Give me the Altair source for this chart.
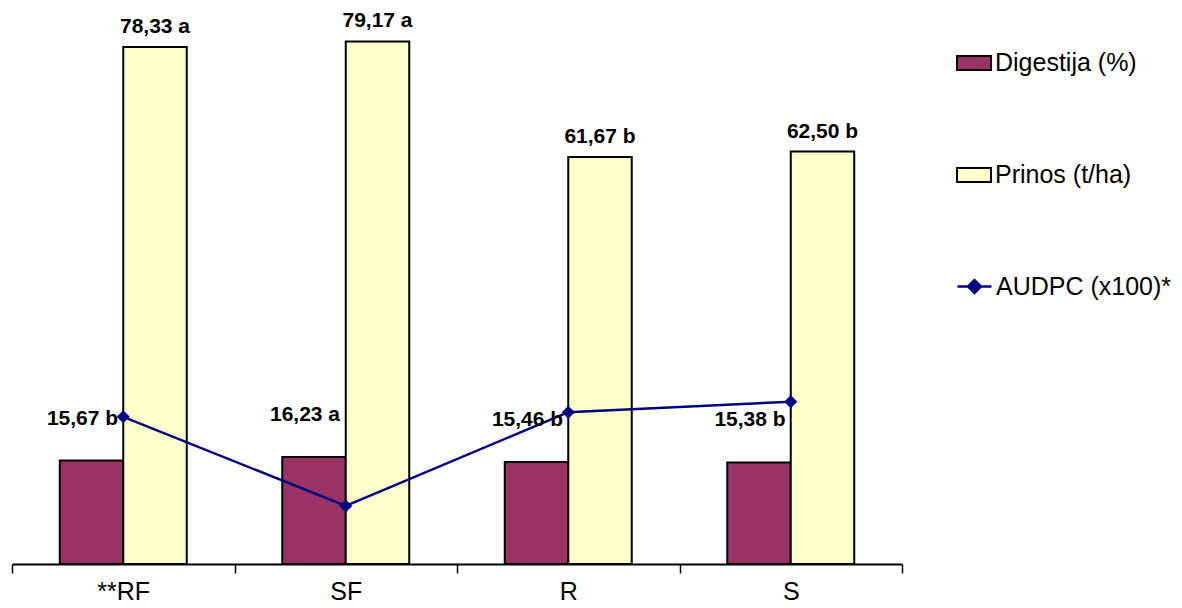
import altair as alt
import pandas as pd

# Treatments and measured values
tretmani = ["**RF", "SF", "R", "S"]
digestija = [15.67, 16.23, 15.46, 15.38]
digestija_slova = ["b", "a", "b", "b"]
prinos = [78.33, 79.17, 61.67, 62.50]
prinos_slova = ["a", "a", "b", "b"]
audpc = [22.3, 8.8, 23.0, 24.6]

serije = ["Digestija (%)", "Prinos (t/ha)"]
boje = ["#993366", "#FFFFCC"]
linija_naziv = "AUDPC (x100)*"
linija_boja = "#000080"
FONT = "Liberation Sans"


def oznaka(v, slovo):
    return f"{v:.2f}".replace(".", ",") + " " + slovo


redovi = []
for i, t in enumerate(tretmani):
    redovi.append(dict(tretman=t, serija=serije[0], vrijednost=digestija[i],
                       oznaka=oznaka(digestija[i], digestija_slova[i])))
    redovi.append(dict(tretman=t, serija=serije[1], vrijednost=prinos[i],
                       oznaka=oznaka(prinos[i], prinos_slova[i])))
stupci = pd.DataFrame(redovi)
linija = pd.DataFrame(dict(tretman=tretmani, audpc=audpc,
                           serija_l=[linija_naziv] * len(tretmani)))

x = alt.X(
    "tretman:N", sort=tretmani,
    scale=alt.Scale(paddingInner=0, paddingOuter=0),
    axis=alt.Axis(title=None, labelAngle=0, tickBand="extent",
                  labelFont=FONT, labelFontSize=25, labelColor="black",
                  labelPadding=6, domainColor="black", domainWidth=2,
                  tickColor="black", tickWidth=1.5, tickSize=9),
)
xoff = alt.XOffset("serija:N", sort=serije,
                   scale=alt.Scale(domain=serije, paddingInner=0, paddingOuter=0.752))
y_scale = alt.Scale(domain=[0, 80], nice=False, zero=True)

stupci_sloj = alt.Chart(stupci).mark_bar(stroke="black", strokeWidth=2).encode(
    x=x,
    xOffset=xoff,
    y=alt.Y("vrijednost:Q", scale=y_scale, axis=None),
    fill=alt.Fill(
        "serija:N", sort=serije,
        scale=alt.Scale(domain=serije, range=boje),
        legend=alt.Legend(
            title=None, orient="none", legendX=944, legendY=9,
            symbolType="M-1,-0.41L1,-0.41L1,0.41L-1,0.41Z", symbolSize=1156,
            symbolStrokeColor="black", symbolStrokeWidth=2, symbolOpacity=1,
            labelFont=FONT, labelFontSize=25, labelColor="black",
            labelOffset=3, labelLimit=0, rowPadding=81,
        ),
    ),
)

tekst_digestija = alt.Chart(stupci).transform_filter(
    alt.datum.serija == serije[0]
).mark_text(font=FONT, fontSize=21, fontWeight="bold", color="black",
            dx=-9, dy=-42, baseline="middle").encode(
    x=x, xOffset=xoff,
    y=alt.Y("vrijednost:Q", scale=y_scale, axis=None),
    text="oznaka:N",
)

tekst_prinos = alt.Chart(stupci).transform_filter(
    alt.datum.serija == serije[1]
).mark_text(font=FONT, fontSize=21, fontWeight="bold", color="black",
            dy=-20, baseline="middle").encode(
    x=x, xOffset=xoff,
    y=alt.Y("vrijednost:Q", scale=y_scale, axis=None),
    text="oznaka:N",
)

linija_sloj = alt.Chart(linija).mark_line(strokeWidth=2.5).encode(
    x=x,
    y=alt.Y("audpc:Q", scale=y_scale, axis=None),
    stroke=alt.Stroke(
        "serija_l:N",
        scale=alt.Scale(domain=[linija_naziv], range=[linija_boja]),
        legend=alt.Legend(
            title=None, orient="none", legendX=944, legendY=232,
            symbolType="M-1,0L1,0M0,-0.38L0.38,0L0,0.38L-0.38,0Z", symbolSize=1156,
            symbolStrokeWidth=2.5, symbolFillColor=linija_boja,
            labelFont=FONT, labelFontSize=25, labelColor="black",
            labelOffset=3, labelLimit=0,
        ),
    ),
)

tocke = alt.Chart(linija).mark_point(shape="diamond", filled=True, size=170,
                                     color=linija_boja, opacity=1).encode(
    x=x,
    y=alt.Y("audpc:Q", scale=y_scale, axis=None),
)

chart = alt.layer(
    stupci_sloj, linija_sloj, tocke, tekst_digestija, tekst_prinos
).properties(
    width=890, height=528,
    autosize=alt.AutoSizeParams(type="none"),
    padding={"left": 12, "top": 36, "right": 280, "bottom": 44},
    background="white",
).configure_view(stroke=None)

chart.save("out.html", embed_options={"renderer": "svg", "actions": False})
